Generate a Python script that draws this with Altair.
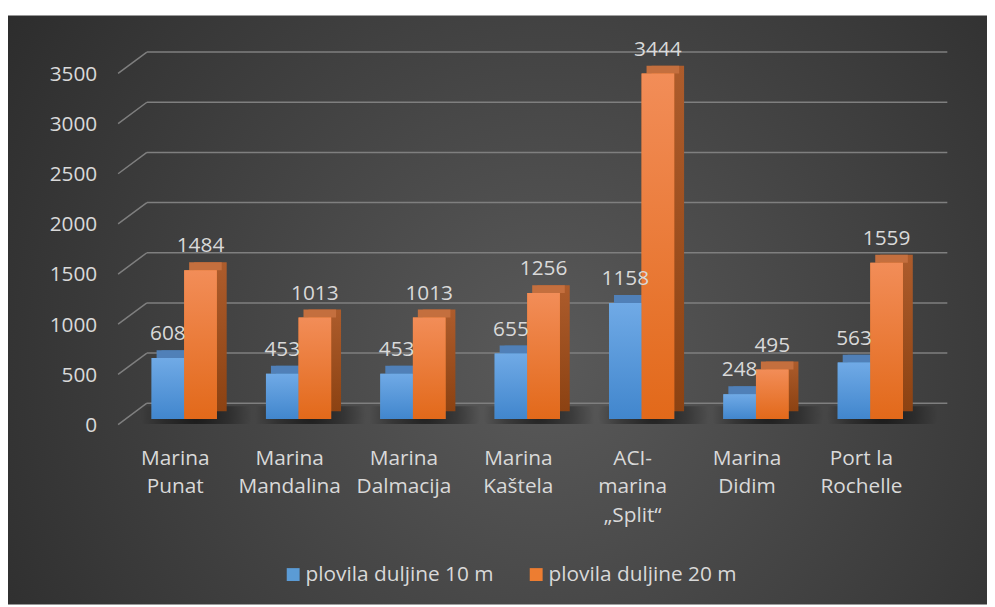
import altair as alt
import pandas as pd

# ---------------- data ----------------
categories = ["Marina\nPunat", "Marina\nMandalina", "Marina\nDalmacija", "Marina\nKaštela",
              "ACI-\nmarina\n„Split“", "Marina\nDidim", "Port la\nRochelle"]
series = ["plovila duljine 10 m", "plovila duljine 20 m"]
values_10m = [608, 453, 453, 655, 1158, 248, 563]
values_20m = [1484, 1013, 1013, 1256, 3444, 495, 1559]
y_ticks = [0, 500, 1000, 1500, 2000, 2500, 3000, 3500]

rows = []
for c, a, b in zip(categories, values_10m, values_20m):
    rows.append({"cat": c, "series": series[0], "value": a})
    rows.append({"cat": c, "series": series[1], "value": b})
df = pd.DataFrame(rows)
cat_df = pd.DataFrame({"cat": categories})
grid_df = pd.DataFrame({"tick": y_ticks})
bg_df = pd.DataFrame({"d": [0]})

FONT = "Open Sans"
TXT = "#d9d9d9"

x_scale = alt.Scale(domain=categories, paddingInner=0.43, paddingOuter=0.215)
y_scale = alt.Scale(domain=[0, 3500], nice=False, zero=True)
xo_scale = alt.Scale(domain=series, paddingInner=0, paddingOuter=0)


def lin(c_top, c_bot):
    return {"gradient": "linear", "x1": 0, "y1": 0, "x2": 0, "y2": 1,
            "stops": [{"offset": 0, "color": c_top}, {"offset": 1, "color": c_bot}]}


front_grad = {series[0]: lin("#70aae6", "#4186cd"), series[1]: lin("#f28d58", "#e2691a")}
side_grad = {series[0]: lin("#40719f", "#2f5d8a"), series[1]: lin("#ad5c2c", "#8c4212")}
top_col = {series[0]: "#5080b8", series[1]: "#c46f3e"}
half_shift = {series[0]: -16.4, series[1]: 16.4}   # half a bar width, left / right of centre

X_NOAX = alt.X("cat:N", scale=x_scale, sort=categories, axis=None)
XO = alt.XOffset("series:N", scale=xo_scale)
Y_NOAX = alt.Y("value:Q", scale=y_scale, axis=None)

# background with radial gradient
background = alt.Chart(bg_df).mark_rect(
    fill={"gradient": "radial", "x1": 0.55, "y1": 0.55, "r1": 0,
          "x2": 0.55, "y2": 0.55, "r2": 0.75,
          "stops": [{"offset": 0, "color": "#5a5a5a"}, {"offset": 1, "color": "#262626"}]}
).encode(x=alt.value(-120), x2=alt.value(867), y=alt.value(-53), y2=alt.value(541))

# back-wall gridlines
grid_back = alt.Chart(grid_df).mark_rule(color="#7f7f7f", strokeWidth=1.5, yOffset=-16).encode(
    y=alt.Y("tick:Q", scale=y_scale, axis=None),
    x=alt.value(20), x2=alt.value(827))

grid_diag = alt.Chart(grid_df).mark_rule(color="#7f7f7f", strokeWidth=1.5, yOffset=5.5, y2Offset=-16).encode(
    y=alt.Y("tick:Q", scale=y_scale, axis=None), y2="tick:Q",
    x=alt.value(-9), x2=alt.value(20))

# y tick labels
y_labels = alt.Chart(grid_df).mark_text(align="right", baseline="middle", dy=7, fontSize=21,
                                        font=FONT, color=TXT).encode(
    y=alt.Y("tick:Q", scale=y_scale, axis=None), x=alt.value(-30), text="tick:Q")

# category labels
x_labels = alt.Chart(cat_df).mark_text(align="center", baseline="top", lineBreak="\n", lineHeight=29,
                                       dx=-9, fontSize=21, font=FONT, color=TXT).encode(
    x=X_NOAX, y=alt.value(383), text="cat:N")

# soft floor shadows behind each group
shadows = alt.Chart(cat_df).transform_calculate(floor="0").mark_bar(
    width=alt.RelativeBandSize(1.7), xOffset=12, yOffset=-13, y2Offset=5,
    fill={"gradient": "radial", "x1": 0.5, "y1": 0.5, "r1": 0, "x2": 0.5, "y2": 0.5, "r2": 0.5,
          "stops": [{"offset": 0, "color": "rgba(0,0,0,0.6)"},
                    {"offset": 0.6, "color": "rgba(0,0,0,0.3)"},
                    {"offset": 1, "color": "rgba(0,0,0,0)"}]}
).encode(x=X_NOAX, y=alt.Y("floor:Q", scale=y_scale, axis=None), y2="floor:Q")

layers = [background, grid_back, grid_diag, y_labels, x_labels, shadows]

# side + top faces (3-D look)
for s in series:
    base = alt.Chart(df).transform_filter(alt.datum.series == s)
    layers.append(base.mark_bar(color=side_grad[s], width=alt.RelativeBandSize(0.5),
                                xOffset=half_shift[s] + 10, yOffset=-8, y2Offset=-4).encode(
        x=X_NOAX, y=Y_NOAX))
    layers.append(base.mark_bar(color=top_col[s], width=alt.RelativeBandSize(0.5),
                                xOffset=half_shift[s] + 5, yOffset=-8, y2Offset=0).encode(
        x=X_NOAX, y=Y_NOAX, y2="value:Q"))

# legend carrier bars (plain colours, hidden under gradient fronts)
legend_bars = alt.Chart(df).mark_bar().encode(
    x=X_NOAX, xOffset=XO, y=Y_NOAX,
    color=alt.Color("series:N", scale=alt.Scale(domain=series, range=["#5b9bd5", "#ed7d31"]),
                    legend=alt.Legend(orient="none", legendX=157, legendY=500, direction="horizontal",
                                      title=None, symbolType="square", symbolSize=169,
                                      symbolStrokeWidth=0, labelFontSize=21, labelFont=FONT,
                                      labelColor=TXT, labelOffset=2, columnPadding=32,
                                      padding=0, labelLimit=400)))
layers.append(legend_bars)

# gradient front faces
for s in series:
    base = alt.Chart(df).transform_filter(alt.datum.series == s)
    layers.append(base.mark_bar(color=front_grad[s]).encode(x=X_NOAX, xOffset=XO, y=Y_NOAX))

# value labels
labels = alt.Chart(df).mark_text(dy=-18, fontSize=21, font=FONT, color=TXT, baseline="alphabetic").encode(
    x=X_NOAX, xOffset=XO, y=Y_NOAX, text="value:Q")
layers.append(labels)

chart = alt.layer(*layers).properties(
    width=807, height=354,
    autosize=alt.AutoSizeParams(type="none"),
    padding={"left": 120, "top": 58, "right": 60, "bottom": 187},
    background="white",
).configure_view(stroke=None)

chart.save("out.html", embed_options={"renderer": "svg", "actions": False})
